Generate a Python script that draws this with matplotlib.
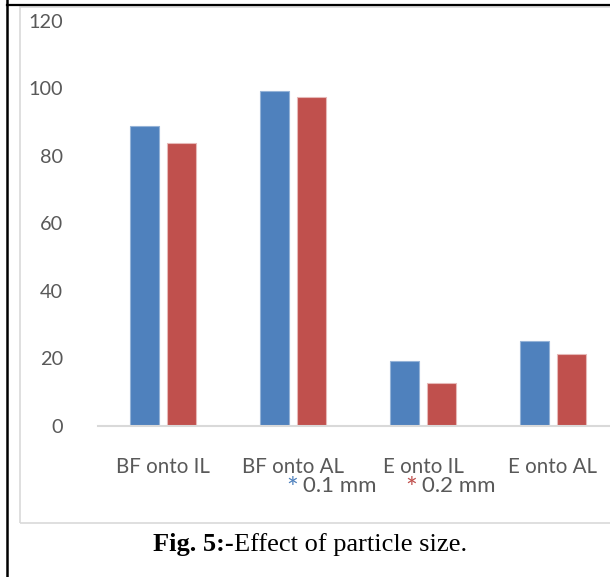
import matplotlib.pyplot as plt
import numpy as np
from matplotlib.patches import Rectangle
from matplotlib.lines import Line2D

categories = ["BF onto IL", "BF onto AL", "E onto IL", "E onto AL"]
size_01 = [88.8, 99.3, 19.2, 25.3]
size_02 = [83.7, 97.4, 12.7, 21.4]
series_names = ["0.1 mm", "0.2 mm"]
yticks = [0, 20, 40, 60, 80, 100, 120]

blue = "#4F81BD"
red = "#C0504D"
grey_txt = "#595959"
font = "Lato"

W, H = 610, 577
fig = plt.figure(figsize=(W / 100, H / 100), dpi=100)

# page frame lines and the chart box
fig.add_artist(Line2D([7 / W, 7 / W], [0, 1], color="black", lw=1.8))
fig.add_artist(Line2D([7 / W, 1], [1 - 5 / H, 1 - 5 / H], color="black", lw=1.6))
fig.add_artist(Rectangle((20 / W, 1 - 523 / H), 1, (523 - 7) / H,
                         fill=False, edgecolor="#D9D9D9", lw=1.2))

# axes run past the right edge of the figure
ax = fig.add_axes([98 / W, 1 - 426 / H, 520 / W, (426 - 20.6) / H])
x = np.arange(len(categories))
w = 0.22
off = 0.143
ax.bar(x - off, size_01, w, color=blue, edgecolor="#95B3D7", lw=0.8)
ax.bar(x + off, size_02, w, color=red, edgecolor="#E6B9B8", lw=0.8)

ax.set_xlim(-0.5, 3.5)
ax.set_ylim(0, 120)
ax.set_yticks(yticks)
ax.set_yticklabels([str(v) for v in yticks], fontsize=14.3, color=grey_txt, family=font)
ax.set_xticks(x)
ax.set_xticklabels(categories, fontsize=14.8, color=grey_txt, family=font)
ax.tick_params(axis="y", length=0, pad=25)
ax.tick_params(axis="x", length=0, pad=22)
for s in ["top", "right", "left"]:
    ax.spines[s].set_visible(False)
ax.spines["bottom"].set_color("#D9D9D9")
ax.spines["bottom"].set_linewidth(1.5)

# legend, drawn as text
ly = 1 - 486 / H
sy = 1 - 477 / H
fig.text(292 / W, sy, "*", color=blue, fontsize=20, family=font, ha="center", va="top")
fig.text(303 / W, ly, series_names[0], color=grey_txt, fontsize=16, family=font, va="center")
fig.text(411 / W, sy, "*", color=red, fontsize=20, family=font, ha="center", va="top")
fig.text(422 / W, ly, series_names[1], color=grey_txt, fontsize=16, family=font, va="center")

# caption: bold prefix followed by plain text
cy = 1 - 545 / H
bold = fig.text(153 / W, cy, "Fig. 5:-", fontsize=19, family="Liberation Serif",
                weight="bold", va="center")
fig.canvas.draw()
bb = bold.get_window_extent()
fig.text(bb.x1 / W, cy, "Effect of particle size.", fontsize=19,
         family="Liberation Serif", va="center")

fig.savefig("out.png", dpi=100)
